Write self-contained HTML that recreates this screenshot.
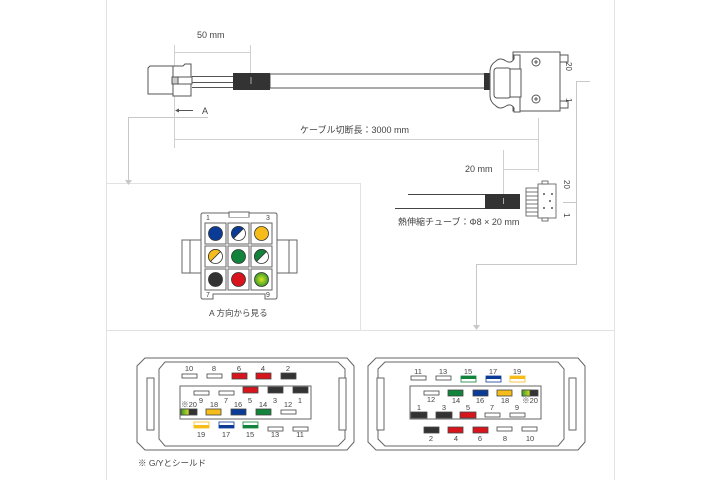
<!DOCTYPE html>
<html><head><meta charset="utf-8"><style>
html,body{margin:0;padding:0;background:#fff}
svg{display:block}
text{font-family:"Liberation Sans","Noto Sans CJK JP",sans-serif;fill:#444}
</style></head><body>
<svg width="720" height="480" viewBox="0 0 720 480" xmlns="http://www.w3.org/2000/svg">
<defs>
<linearGradient id="gy" x1="0" x2="1"><stop offset="0" stop-color="#3a9a2a"/><stop offset="1" stop-color="#d8e020"/></linearGradient>
<radialGradient id="lg"><stop offset="0" stop-color="#d8e820"/><stop offset="1" stop-color="#3a9a2a"/></radialGradient>
</defs>
<g stroke="#e2e2e2" stroke-width="1" fill="none">
<line x1="106.5" y1="0" x2="106.5" y2="480"/>
<line x1="614.5" y1="0" x2="614.5" y2="480"/>
<line x1="106" y1="330.5" x2="614" y2="330.5"/>
<polyline points="106,183.5 360.5,183.5 360.5,330"/>
</g>
<g stroke="#c8c8c8" fill="none">
<polyline points="208,117.5 128.5,117.5 128.5,180"/>
<polyline points="590,81.5 576.5,81.5 576.5,264.5 476.5,264.5 476.5,326"/>
<line x1="563" y1="202.5" x2="576" y2="202.5"/>
</g>
<polygon points="125,180 132,180 128.5,185" fill="#c8c8c8"/>
<polygon points="473,325 480,325 476.5,330" fill="#c8c8c8"/>
<g stroke="#d0d0d0" fill="none">
<line x1="174.5" y1="45" x2="174.5" y2="148"/>
<line x1="250.5" y1="45" x2="250.5" y2="82"/>
<line x1="175" y1="52.5" x2="250" y2="52.5"/>
<line x1="538.5" y1="118" x2="538.5" y2="172"/>
<line x1="175" y1="139.5" x2="538" y2="139.5"/>
<line x1="503.5" y1="150" x2="503.5" y2="200"/>
<line x1="504" y1="169.5" x2="538" y2="169.5"/>
</g>
<line x1="176" y1="110.5" x2="193" y2="110.5" stroke="#555"/>
<polygon points="175,110.5 179,108.5 179,112.5" fill="#555"/>
<text x="197" y="38" font-size="9">50 mm</text>
<text x="202" y="114" font-size="9">A</text>
<text x="300" y="133" font-size="9">ケーブル切断長：3000 mm</text>
<text x="465" y="172" font-size="9">20 mm</text>
<g stroke="#555" stroke-width="1" fill="#fff">
<path d="M148,68 l2,-2 h23 v28 h-25 z"/>
<path d="M173,66 h10 l2,-2 h6 v32 h-18 z"/>
<rect x="172" y="77" width="6" height="7" fill="#ccc"/>
<rect x="178" y="77" width="14" height="7"/>
<line x1="192" y1="76.5" x2="234" y2="76.5"/>
<line x1="192" y1="82.5" x2="234" y2="82.5"/>
<line x1="192" y1="87.5" x2="234" y2="87.5"/>
<rect x="270" y="74" width="216" height="14"/>
</g>
<rect x="233" y="73" width="37" height="17" fill="#333"/>
<line x1="251" y1="77" x2="251" y2="84" stroke="#aaa"/>
<rect x="484" y="73" width="7" height="17" fill="#333"/>
<g stroke="#555" fill="#fff">
<path d="M513,52 h47 v59 h-47 z"/>
<rect x="560" y="55" width="8" height="7"/>
<rect x="560" y="101" width="8" height="7"/>
<path d="M496,61 q4,-4 10,0 q5,3 8,-2 v-4 h6 v57 h-6 v-4 q-3,-5 -8,-2 q-6,4 -10,0 q-6,-4 -6,-10 v-25 q0,-6 6,-10 z"/>
<rect x="494" y="68" width="17" height="30" rx="3"/>
<rect x="510" y="69" width="11" height="28"/>
<circle cx="536" cy="62" r="4"/>
<circle cx="536" cy="99" r="4"/>
</g>
<path d="M534,62h4M536,60v4M534,99h4M536,97v4" stroke="#555"/>
<text font-size="8" transform="translate(566,62) rotate(90)">20</text>
<text font-size="8" transform="translate(566,98) rotate(90)">1</text>
<g stroke="#444" fill="none">
<line x1="408" y1="194.5" x2="486" y2="194.5"/>
<line x1="395" y1="208.5" x2="486" y2="208.5"/>
</g>
<rect x="485" y="194" width="35" height="15" fill="#333"/>
<line x1="503.5" y1="198" x2="503.5" y2="204" stroke="#aaa"/>
<g stroke="#555" fill="#fff" stroke-width="0.8">
<rect x="526" y="188" width="12" height="28"/>
<line x1="526" y1="192" x2="538" y2="192"/><line x1="526" y1="196" x2="538" y2="196"/><line x1="526" y1="200" x2="538" y2="200"/><line x1="526" y1="204" x2="538" y2="204"/><line x1="526" y1="208" x2="538" y2="208"/><line x1="526" y1="212" x2="538" y2="212"/>
<rect x="538" y="184" width="18" height="34"/>
<rect x="542" y="181" width="6" height="3"/><rect x="542" y="218" width="6" height="3"/>
</g>
<g fill="#555"><circle cx="544" cy="194" r="1"/><circle cx="550" cy="201" r="1"/><circle cx="544" cy="208" r="1"/><circle cx="552" cy="194" r="1"/><circle cx="552" cy="208" r="1"/></g>
<text font-size="8" transform="translate(564,180) rotate(90)">20</text>
<text font-size="8" transform="translate(564,213) rotate(90)">1</text>
<text x="398" y="225" font-size="9">熱伸縮チューブ：Φ8 × 20 mm</text>
<!-- A view -->
<g stroke="#666" fill="#fff">
<rect x="182" y="240" width="20" height="33"/>
<rect x="277" y="240" width="20" height="33"/>
<line x1="190" y1="240" x2="190" y2="273"/><line x1="289" y1="240" x2="289" y2="273"/>
<path d="M203,213 h26 v4 h20 v-4 h26 q2,0 2,2 v82 q0,2 -2,2 h-10 v-5 h-52 v5 h-10 q-2,0 -2,-2 v-82 q0,-2 2,-2 z"/>
<path d="M229,217 v-5 h20 v5"/>
</g>
<g stroke="#666" fill="#fff">
<rect x="205" y="223" width="21" height="21"/><rect x="228" y="223" width="21" height="21"/><rect x="251" y="223" width="21" height="21"/>
<rect x="205" y="246" width="21" height="21"/><rect x="228" y="246" width="21" height="21"/><rect x="251" y="246" width="21" height="21"/>
<rect x="205" y="269" width="21" height="21"/><rect x="228" y="269" width="21" height="21"/><rect x="251" y="269" width="21" height="21"/>
</g>
<g stroke="#333" stroke-width="0.8">
<circle cx="215.5" cy="233.5" r="7" fill="#0a3b96"/>
<circle cx="238.5" cy="233.5" r="7" fill="#fff"/>
<path d="M233.5,238.5 A7,7 0 0 1 243.5,228.5 Z" fill="#0a3b96"/>
<circle cx="261.5" cy="233.5" r="7" fill="#f6bd1a"/>
<circle cx="215.5" cy="256.5" r="7" fill="#fff"/>
<path d="M210.5,261.5 A7,7 0 0 1 220.5,251.5 Z" fill="#f6bd1a"/>
<circle cx="238.5" cy="256.5" r="7" fill="#11833a"/>
<circle cx="261.5" cy="256.5" r="7" fill="#fff"/>
<path d="M256.5,261.5 A7,7 0 0 1 266.5,251.5 Z" fill="#11833a"/>
<circle cx="215.5" cy="279.5" r="7" fill="#333"/>
<circle cx="238.5" cy="279.5" r="7" fill="#d8141c"/>
<circle cx="261.5" cy="279.5" r="7" fill="url(#lg)"/>
</g>
<g font-size="7"><text x="206" y="220">1</text><text x="266" y="220">3</text><text x="206" y="297">7</text><text x="266" y="297">9</text></g>
<text x="209" y="316" font-size="8.5">A 方向から見る</text>
<!-- bottom connectors -->
<g stroke="#666" fill="#fff">
<path d="M145,358 h202 l7,8 v76 l-7,8 h-202 l-8,-8 v-76 z"/>
<path d="M165,362 h173 l7,7 v70 l-7,7 h-173 l-6,-7 v-70 z"/>
<rect x="147" y="378" width="7" height="52"/>
<rect x="339" y="378" width="7" height="52"/>
<rect x="180" y="386" width="131" height="33"/>
<path d="M376,358 h202 l7,8 v76 l-7,8 h-202 l-8,-8 v-76 z"/>
<path d="M385,362 h173 l6,7 v70 l-6,7 h-173 l-7,-7 v-70 z"/>
<rect x="377" y="378" width="7" height="52"/>
<rect x="569" y="378" width="7" height="52"/>
<rect x="410" y="386" width="131" height="33"/>
</g>
<g stroke="#444" stroke-width="0.8">
<rect x="182" y="374" width="15" height="4" fill="#fff"/>
<rect x="207" y="374" width="15" height="4" fill="#fff"/>
<rect x="232" y="373" width="15" height="6" fill="#d8141c"/>
<rect x="256" y="373" width="15" height="6" fill="#d8141c"/>
<rect x="281" y="373" width="15" height="6" fill="#333"/>
<rect x="194" y="391" width="15" height="4" fill="#fff"/>
<rect x="219" y="391" width="15" height="4" fill="#fff"/>
<rect x="243" y="387" width="15" height="6" fill="#d8141c"/>
<rect x="268" y="387" width="15" height="6" fill="#333"/>
<rect x="293" y="387" width="15" height="6" fill="#333"/>
<rect x="181" y="409" width="16" height="6" fill="#333"/>
<rect x="181" y="409" width="8" height="6" fill="url(#gy)"/>
<rect x="206" y="409" width="15" height="6" fill="#f6bd1a"/>
<rect x="231" y="409" width="15" height="6" fill="#0a3b96"/>
<rect x="256" y="409" width="15" height="6" fill="#11833a"/>
<rect x="281" y="410" width="15" height="4" fill="#fff"/>
<rect x="194" y="422" width="15" height="6" fill="#fff" stroke="#f6bd1a"/><rect x="194" y="425" width="15" height="3" fill="#f6bd1a" stroke="none"/>
<rect x="219" y="422" width="15" height="6" fill="#fff" stroke="#0a3b96"/><rect x="219" y="425" width="15" height="3" fill="#0a3b96" stroke="none"/>
<rect x="243" y="422" width="15" height="6" fill="#fff" stroke="#11833a"/><rect x="243" y="425" width="15" height="3" fill="#11833a" stroke="none"/>
<rect x="268" y="427" width="15" height="4" fill="#fff"/>
<rect x="293" y="427" width="15" height="4" fill="#fff"/>
<rect x="411" y="376" width="15" height="4" fill="#fff"/>
<rect x="436" y="376" width="15" height="4" fill="#fff"/>
<rect x="461" y="376" width="15" height="6" fill="#fff" stroke="#11833a"/><rect x="461" y="376" width="15" height="3" fill="#11833a" stroke="none"/>
<rect x="486" y="376" width="15" height="6" fill="#fff" stroke="#0a3b96"/><rect x="486" y="376" width="15" height="3" fill="#0a3b96" stroke="none"/>
<rect x="510" y="376" width="15" height="6" fill="#fff" stroke="#f6bd1a"/><rect x="510" y="376" width="15" height="3" fill="#f6bd1a" stroke="none"/>
<rect x="424" y="391" width="15" height="4" fill="#fff"/>
<rect x="448" y="390" width="15" height="6" fill="#11833a"/>
<rect x="473" y="390" width="15" height="6" fill="#0a3b96"/>
<rect x="497" y="390" width="15" height="6" fill="#f6bd1a"/>
<rect x="522" y="390" width="16" height="6" fill="#333"/>
<rect x="522" y="390" width="8" height="6" fill="url(#gy)"/>
<rect x="411" y="412" width="16" height="6" fill="#333"/>
<rect x="436" y="412" width="16" height="6" fill="#333"/>
<rect x="460" y="412" width="16" height="6" fill="#d8141c"/>
<rect x="485" y="413" width="15" height="4" fill="#fff"/>
<rect x="510" y="413" width="15" height="4" fill="#fff"/>
<rect x="424" y="427" width="15" height="6" fill="#333"/>
<rect x="448" y="427" width="15" height="6" fill="#d8141c"/>
<rect x="473" y="427" width="15" height="6" fill="#d8141c"/>
<rect x="497" y="427" width="15" height="4" fill="#fff"/>
<rect x="522" y="427" width="15" height="4" fill="#fff"/>
</g>
<g font-size="7.5" text-anchor="middle">
<text x="189" y="371">10</text><text x="214" y="371">8</text><text x="239" y="371">6</text><text x="263" y="371">4</text><text x="288" y="371">2</text>
<text x="201" y="403">9</text><text x="226" y="403">7</text><text x="250" y="403">5</text><text x="275" y="403">3</text><text x="300" y="403">1</text>
<text x="189" y="407">※20</text><text x="214" y="407">18</text><text x="238" y="407">16</text><text x="263" y="407">14</text><text x="288" y="407">12</text>
<text x="201" y="437">19</text><text x="226" y="437">17</text><text x="250" y="437">15</text><text x="275" y="437">13</text><text x="300" y="437">11</text>
<text x="418" y="374">11</text><text x="443" y="374">13</text><text x="468" y="374">15</text><text x="493" y="374">17</text><text x="517" y="374">19</text>
<text x="431" y="402">12</text><text x="456" y="403">14</text><text x="480" y="403">16</text><text x="505" y="403">18</text><text x="530" y="403">※20</text>
<text x="419" y="410">1</text><text x="444" y="410">3</text><text x="468" y="410">5</text><text x="492" y="410">7</text><text x="517" y="410">9</text>
<text x="431" y="441">2</text><text x="456" y="441">4</text><text x="480" y="441">6</text><text x="505" y="441">8</text><text x="530" y="441">10</text>
</g>
<text x="138" y="466" font-size="8.5" fill="#666">※ G/Yとシールド</text>
</svg>
</body></html>
